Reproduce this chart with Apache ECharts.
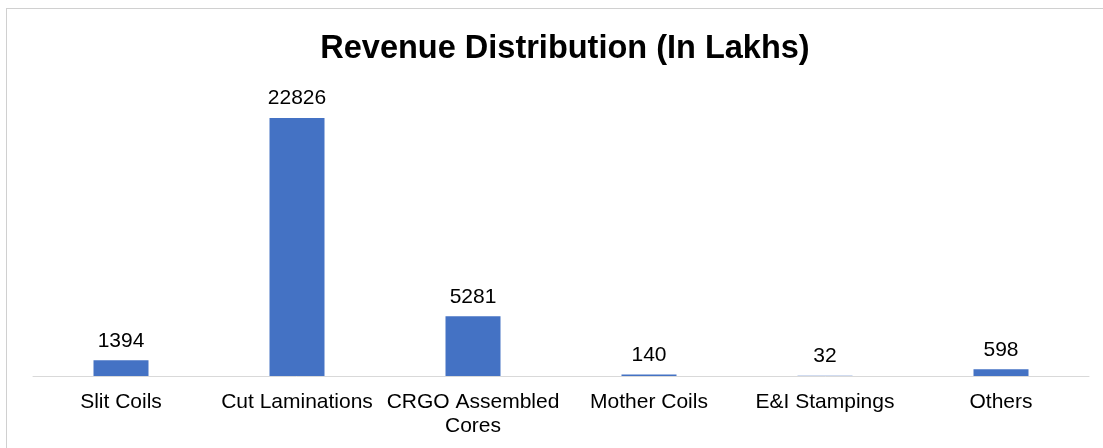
<!DOCTYPE html>
<html lang="en">
<head>
    <meta charset="UTF-8">
    <title>Revenue Distribution</title>
    <script src="https://cdn.jsdelivr.net/npm/echarts@6/dist/echarts.min.js"></script>
    <style>
        html, body {
            margin: 0;
            padding: 0;
            background: #fff;
        }
        #frame {
            position: absolute;
            left: 6px;
            top: 8px;
            width: 1110px;
            height: 460px;
            border: 1px solid #d0d0d0;
        }
        #chart {
            position: absolute;
            left: 0;
            top: 0;
            width: 1103px;
            height: 448px;
        }
    </style>
</head>
<body>
<div id="frame"></div>
<div id="chart"></div>
<script type="text/javascript">
    var categories = ['Slit Coils', 'Cut Laminations', 'CRGO Assembled Cores', 'Mother Coils', 'E&I Stampings', 'Others'];
    var revenue = [1394, 22826, 5281, 140, 32, 598];

    var myChart = echarts.init(document.getElementById('chart'));
    var option = {
        animation: false,
        title: {
            text: 'Revenue Distribution (In Lakhs)',
            left: 560,
            textAlign: 'center',
            top: 28,
            textStyle: {
                fontFamily: 'Liberation Sans',
                fontSize: 32.5,
                fontWeight: 'bold',
                color: '#000'
            }
        },
        grid: {
            left: 33,
            right: 14,
            top: 93.4,
            bottom: 72
        },
        xAxis: {
            type: 'category',
            data: categories,
            axisLine: {lineStyle: {color: '#d9d9d9', width: 1}},
            axisTick: {show: false},
            axisLabel: {
                margin: 14,
                interval: 0,
                fontFamily: 'Liberation Sans',
                fontSize: 21,
                lineHeight: 24,
                color: '#000',
                formatter: function (v) {
                    return v.replace(' Cores', '\nCores');
                }
            }
        },
        yAxis: {
            type: 'value',
            min: 0,
            max: 25000,
            show: false,
            splitLine: {show: false}
        },
        series: [{
            type: 'bar',
            data: revenue,
            barWidth: 55,
            itemStyle: {color: '#4472C4'},
            label: {
                show: true,
                position: 'top',
                distance: 9,
                fontFamily: 'Liberation Sans',
                fontSize: 21,
                color: '#000'
            }
        }]
    };
    myChart.setOption(option);
</script>
</body>
</html>
